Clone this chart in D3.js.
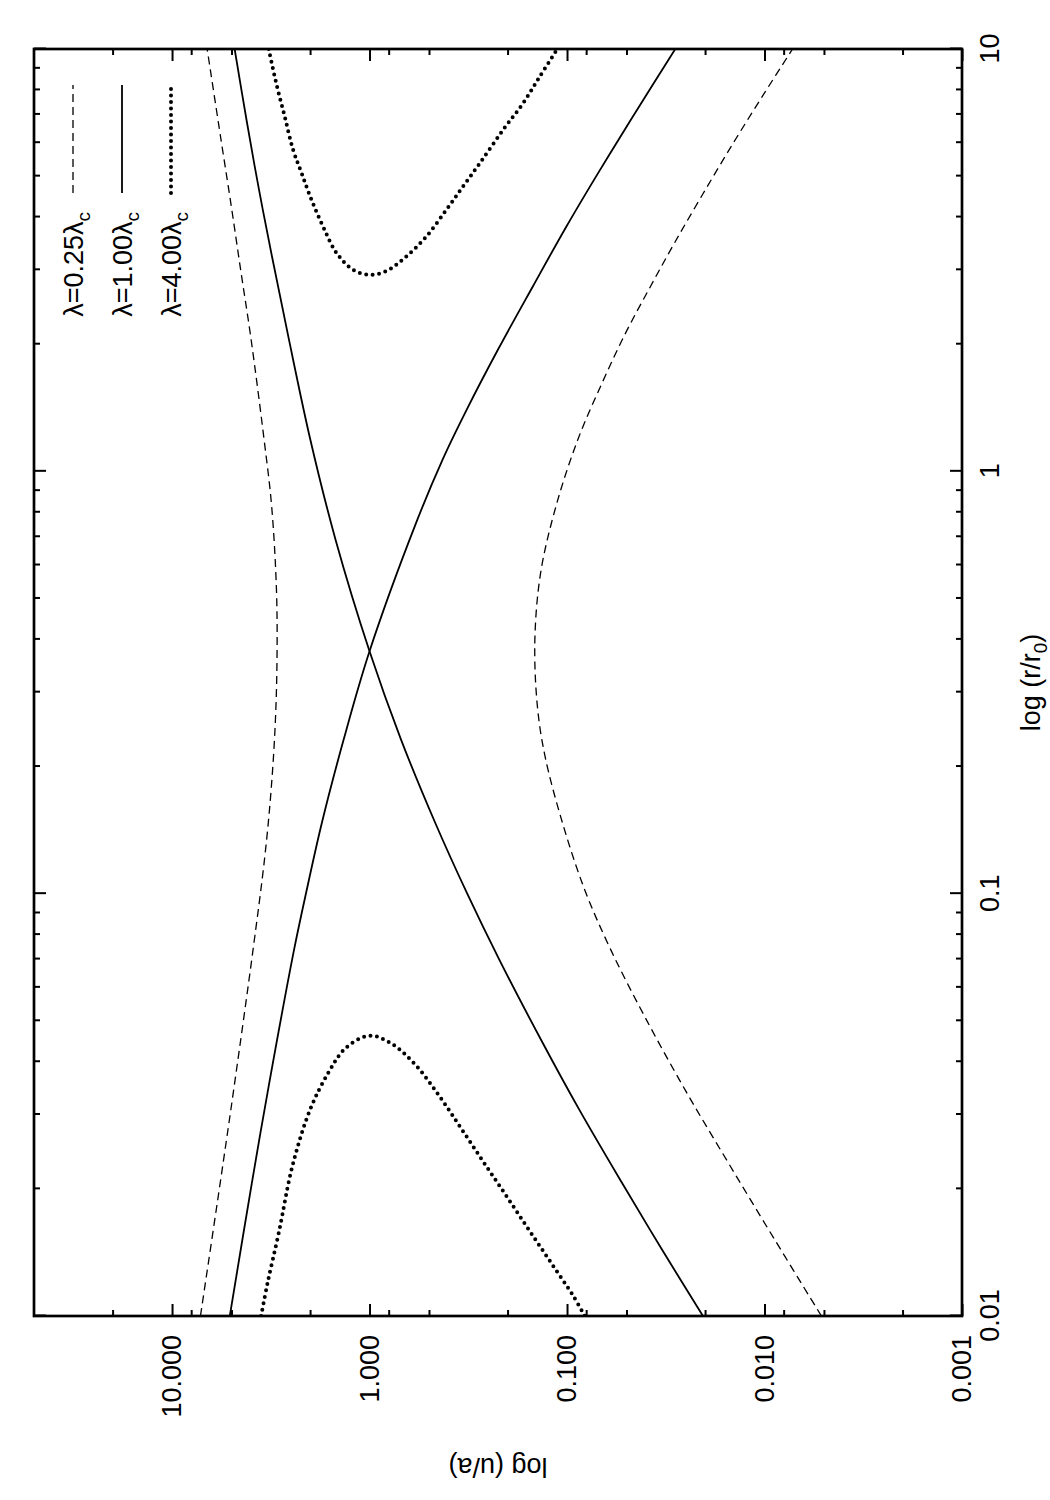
<!DOCTYPE html>
<html lang="en">
<head>
<meta charset="UTF-8">
<title>log (u/a) against log (r/r0)</title>
<style>
  body { margin: 0; background: #fff; }
  svg { display: block; background: #fff; }
  text { font-family: "Liberation Sans", Arial, Helvetica, sans-serif; fill: #000; }
  .axis line { stroke: #000; stroke-width: 2; }
  .axis text { font-size: 27px; }
  .curve { fill: none; stroke: #000; }
</style>
</head>
<body>
<svg id="chart" width="1050" height="1500"></svg>
<script src="https://d3js.org/d3.v7.min.js"></script>
<script>
// tick values
const rTicks = [0.01, 0.1, 1, 10];
const rMinorTicks = [0.02, 0.03, 0.04, 0.05, 0.06, 0.07, 0.08, 0.09,
                     0.2, 0.3, 0.4, 0.5, 0.6, 0.7, 0.8, 0.9,
                     2, 3, 4, 5, 6, 7, 8, 9];
const uTicks = [0.001, 0.01, 0.1, 1, 10];
const uMinorTicks = [0.002, 0.005, 0.008, 0.02, 0.05, 0.08, 0.2, 0.5, 0.8, 2, 5, 8, 20];

const seriesLabels = ["0.25", "1.00", "4.00"];

// [r/r0, u/a]
const lam025Upper = [[0.01, 7.18], [0.0207, 5.70], [0.0356, 4.82], [0.0736, 3.89], [0.1225, 3.39],
  [0.176, 3.15], [0.254, 3.00], [0.365, 2.94], [0.525, 2.96], [0.826, 3.13], [1.19, 3.42],
  [2.09, 4.00], [2.95, 4.47], [4.24, 5.01], [6.10, 5.65], [10, 6.64]];
const lam025Lower = [[0.01, 0.00515], [0.0152, 0.00891], [0.0230, 0.01521], [0.0343, 0.02523],
  [0.0512, 0.04046], [0.0736, 0.0600], [0.102, 0.0813], [0.147, 0.1054], [0.211, 0.1291],
  [0.278, 0.1413], [0.399, 0.1455], [0.574, 0.1361], [0.826, 0.1138], [1.19, 0.0881], [1.62, 0.0664],
  [2.13, 0.0504], [2.74, 0.0378], [3.47, 0.0286], [4.48, 0.02084], [5.99, 0.01439], [7.87, 0.0100],
  [10, 0.00721]];
const lam1Rising = [[0.01, 0.0205], [0.01435, 0.0330], [0.0207, 0.0528], [0.0308, 0.0867],
  [0.0443, 0.1327], [0.0698, 0.2203], [0.1004, 0.3214], [0.147, 0.4645], [0.232, 0.6934], [0.375, 1.0],
  [0.689, 1.486], [1.19, 1.995], [2.09, 2.58], [3.23, 3.12], [4.65, 3.63], [6.68, 4.17], [10, 4.82]];
const lam1Falling = [[0.01, 5.10], [0.0207, 3.94], [0.0356, 3.22], [0.0737, 2.41], [0.102, 2.08],
  [0.147, 1.744], [0.232, 1.351], [0.375, 1.0], [0.755, 0.581], [1.066, 0.4266], [1.40, 0.322],
  [1.94, 0.2239], [2.74, 0.149], [3.80, 0.1007], [5.09, 0.0695], [6.80, 0.0475], [10, 0.0283]];
const lam4Inner = [[0.01, 3.54], [0.012, 3.28], [0.01575, 2.88], [0.0226, 2.46], [0.0308, 2.00],
  [0.0376, 1.62], [0.0431, 1.32], [0.0461, 1.0], [0.0443, 0.783], [0.0394, 0.588], [0.0331, 0.4416],
  [0.0276, 0.340], [0.0230, 0.2624], [0.0192, 0.2022], [0.016, 0.156], [0.01335, 0.1202],
  [0.01113, 0.0927], [0.01, 0.0813]];
const lam4Outer = [[10, 3.24], [8.31, 2.97], [6.93, 2.69], [5.78, 2.44], [5.09, 2.21], [4.40, 1.97],
  [3.80, 1.72], [3.29, 1.47], [3.00, 1.21], [2.92, 1.0], [2.98, 0.821], [3.23, 0.650], [3.60, 0.515],
  [4.17, 0.407], [4.73, 0.336], [5.37, 0.276], [6.44, 0.2104], [7.45, 0.1666], [8.62, 0.137],
  [10, 0.112]];

const styles = [
  { width: 1.3, dash: "8,5", cap: "butt" },
  { width: 1.8, dash: null, cap: "butt" },
  { width: 4, dash: "0,6.5", cap: "round" }
];
const branches = [
  { data: lam025Upper, s: 0 }, { data: lam025Lower, s: 0 },
  { data: lam1Rising, s: 1 }, { data: lam1Falling, s: 1 },
  { data: lam4Inner, s: 2 }, { data: lam4Outer, s: 2 }
];

// the whole plot is drawn landscape and turned a quarter turn
const pLeft = 184, pRight = 1451, pTop = 34, pBottom = 962;

const x = d3.scaleLog().domain([0.01, 10]).range([pLeft, pRight]);
const y = d3.scaleLog().domain([0.001, 50]).range([pBottom, pTop]);

const svg = d3.select("#chart");
const plot = svg.append("g").attr("transform", "translate(0,1500) rotate(-90)");

plot.append("clipPath").attr("id", "clip")
  .append("rect")
  .attr("x", pLeft).attr("y", pTop)
  .attr("width", pRight - pLeft).attr("height", pBottom - pTop);

function addAxis(axis, tx, ty) {
  const g = plot.append("g").attr("class", "axis")
    .attr("transform", `translate(${tx},${ty})`)
    .call(axis);
  g.select(".domain").remove();
  return g;
}

// major ticks with labels
addAxis(d3.axisBottom(x).tickValues(rTicks).tickSize(-12).tickPadding(18)
  .tickFormat(d3.format("~g")), 0, pBottom);
addAxis(d3.axisLeft(y).tickValues(uTicks).tickSize(-12).tickPadding(19)
  .tickFormat(d3.format(".3f")), pLeft, 0);
// mirrored and minor ticks
addAxis(d3.axisTop(x).tickValues(rTicks).tickSize(-12).tickFormat(""), 0, pTop);
addAxis(d3.axisRight(y).tickValues(uTicks).tickSize(-12).tickFormat(""), pRight, 0);
addAxis(d3.axisBottom(x).tickValues(rMinorTicks).tickSize(-6).tickFormat(""), 0, pBottom);
addAxis(d3.axisTop(x).tickValues(rMinorTicks).tickSize(-6).tickFormat(""), 0, pTop);
addAxis(d3.axisLeft(y).tickValues(uMinorTicks).tickSize(-6).tickFormat(""), pLeft, 0);
addAxis(d3.axisRight(y).tickValues(uMinorTicks).tickSize(-6).tickFormat(""), pRight, 0);

plot.append("rect")
  .attr("x", pLeft).attr("y", pTop)
  .attr("width", pRight - pLeft).attr("height", pBottom - pTop)
  .attr("fill", "none").attr("stroke", "#000").attr("stroke-width", 2.7);

const line = d3.line()
  .x(d => x(d[0]))
  .y(d => y(d[1]))
  .curve(d3.curveCatmullRom.alpha(0.5));

plot.append("g").attr("clip-path", "url(#clip)")
  .selectAll("path")
  .data(branches)
  .join("path")
  .attr("class", "curve")
  .attr("d", d => line(d.data))
  .attr("stroke-width", d => styles[d.s].width)
  .attr("stroke-dasharray", d => styles[d.s].dash)
  .attr("stroke-linecap", d => styles[d.s].cap);

// legend, top right of the landscape plot
const legend = plot.append("g")
  .selectAll("g")
  .data(seriesLabels)
  .join("g")
  .attr("transform", (d, i) => `translate(0,${73 + i * 49})`);

const lt = legend.append("text")
  .attr("x", 1288).attr("y", 10)
  .attr("text-anchor", "end")
  .style("font-size", "27px");
lt.append("tspan").text(d => `λ=${d}λ`);
lt.append("tspan").text("c").attr("dy", 7).style("font-size", "19px");

legend.append("line")
  .attr("x1", 1307).attr("x2", 1415)
  .attr("y1", 0).attr("y2", 0)
  .attr("class", "curve")
  .attr("stroke-width", (d, i) => styles[i].width)
  .attr("stroke-dasharray", (d, i) => styles[i].dash)
  .attr("stroke-linecap", (d, i) => styles[i].cap);

// axis titles
const xt = plot.append("text")
  .attr("x", (pLeft + pRight) / 2).attr("y", 1040)
  .attr("text-anchor", "middle")
  .style("font-size", "27px");
xt.append("tspan").text("log (r/r");
xt.append("tspan").text("0").attr("dy", 7).style("font-size", "19px");
xt.append("tspan").text(")").attr("dy", -7);

plot.append("text")
  .attr("transform", `translate(33,${(pTop + pBottom) / 2}) rotate(-90)`)
  .attr("text-anchor", "middle")
  .attr("dy", "0.35em")
  .style("font-size", "27px")
  .text("log (u/a)");
</script>
</body>
</html>
